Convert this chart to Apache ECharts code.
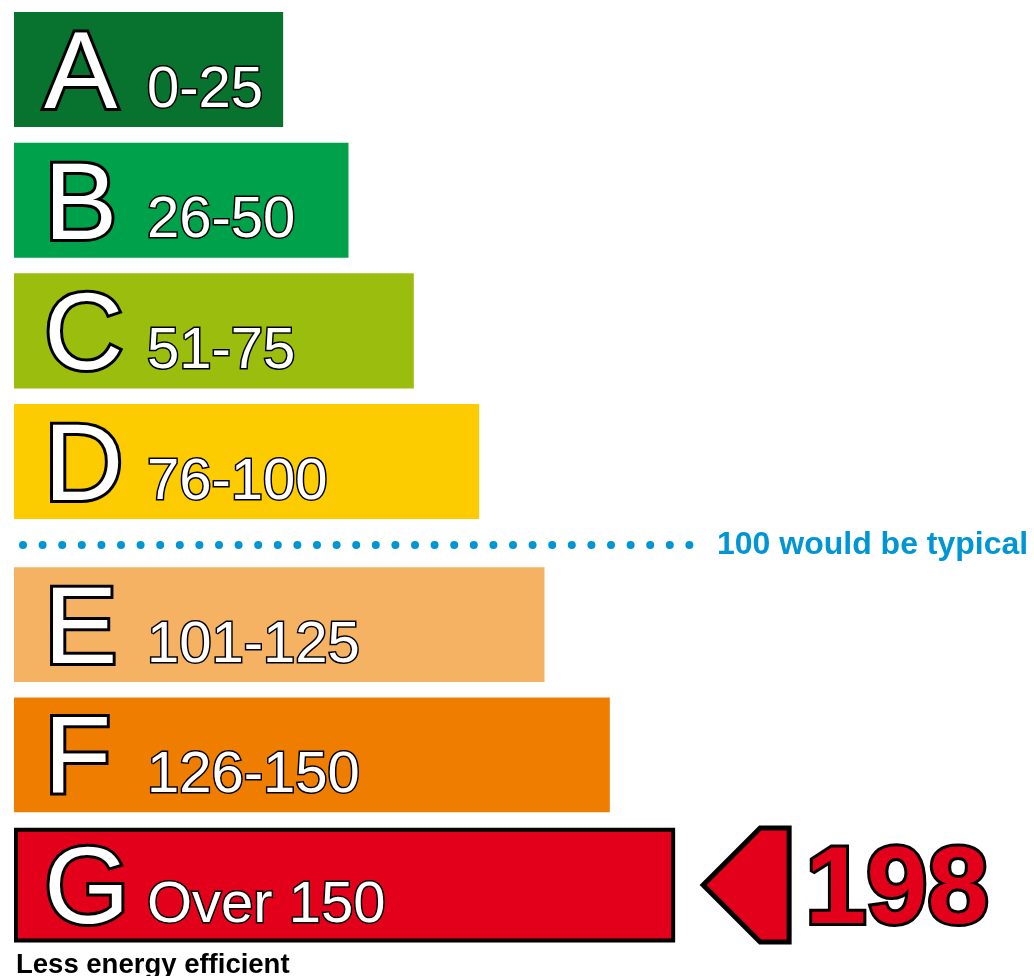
<!DOCTYPE html>
<html>
<head>
<meta charset="utf-8">
<title>Energy rating</title>
<script src="https://cdn.jsdelivr.net/npm/echarts@6/dist/echarts.min.js"></script>
<style>
	html, body { margin: 0; padding: 0; background: #fff; }
	#chart { width: 1034px; height: 976px; }
</style>
</head>
<body>
<div id="chart"></div>
<script>
	var bands = ['A', 'B', 'C', 'D', 'E', 'F', 'G'];
	var ranges = ['0-25', '26-50', '51-75', '76-100', '101-125', '126-150', 'Over 150'];
	var upper = [25, 50, 75, 100, 125, 150, 175];
	var colors = ['#08722f', '#00a14b', '#9bbe0e', '#fccb00', '#f5b263', '#ef7d00', '#e2001a'];
	var typical = 100;
	var typicalText = '100 would be typical';
	var score = 198;
	var scoreBand = 'G';
	var footText = 'Less energy efficient';

	var xMin = -78, xMax = 300;
	var FONT = '"Liberation Sans", Arial, sans-serif';
	var BLUE = '#0096d6';

	function renderBar(params, api) {
		var i = api.value(2);
		var cat = api.value(1);
		var end = api.coord([api.value(0), cat]);
		var x0 = api.coord([xMin, cat])[0];
		var h = api.size([0, 1])[1] * 0.881;
		var cy = end[1];
		var top = cy - h / 2;
		var current = bands[i] === scoreBand;
		var kids = [];
		if (current) {
			kids.push({
				type: 'rect',
				shape: { x: x0 + 2, y: top + 2, width: end[0] - x0 - 4, height: h - 4 },
				style: { fill: colors[i], stroke: '#000', lineWidth: 4 }
			});
		} else {
			kids.push({
				type: 'rect',
				shape: { x: x0, y: top, width: end[0] - x0, height: h },
				style: { fill: colors[i] }
			});
		}
		kids.push({
			type: 'text',
			style: {
				text: bands[i], x: x0 + 30, y: cy + 8, verticalAlign: 'middle',
				font: '110px ' + FONT, fill: '#fff', stroke: '#000', lineWidth: 6
			}
		});
		kids.push({
			type: 'text',
			style: {
				text: ranges[i], x: x0 + 133, y: cy + 21, verticalAlign: 'middle',
				font: '58px ' + FONT, fill: '#fff', stroke: '#000', lineWidth: 3
			}
		});
		// dotted "typical" line under the band that ends at the typical value
		if (upper[i] === typical) {
			var ly = top + h + 26;
			kids.push({
				type: 'line',
				shape: { x1: x0 + 9, y1: ly, x2: x0 + 676, y2: ly },
				style: { stroke: BLUE, lineWidth: 8, lineDash: [0, 19.6], lineCap: 'round' }
			});
			kids.push({
				type: 'text',
				style: {
					text: typicalText, x: x0 + 703, y: ly, verticalAlign: 'middle',
					font: 'bold 32px ' + FONT, fill: BLUE
				}
			});
		}
		// arrow with the current score
		if (current) {
			var tx = end[0] + 28;
			kids.push({
				type: 'polygon',
				shape: { points: [[tx, cy], [tx + 57, cy - 57], [tx + 86, cy - 57], [tx + 86, cy + 57], [tx + 57, cy + 57]] },
				style: { fill: colors[i], stroke: '#000', lineWidth: 5, lineJoin: 'miter' }
			});
			kids.push({
				type: 'text',
				style: {
					text: String(score), x: tx + 102, y: cy + 8, verticalAlign: 'middle',
					font: 'bold 110px ' + FONT, fill: colors[i], stroke: '#000', lineWidth: 6
				}
			});
			kids.push({
				type: 'text',
				style: {
					text: footText, x: x0 + 2, y: top + h + 23, verticalAlign: 'middle',
					font: 'bold 27.5px ' + FONT, fill: '#000'
				}
			});
		}
		return { type: 'group', children: kids };
	}

	function seriesData(from, to) {
		var d = [];
		for (var i = from; i < to; i++) d.push([upper[i], bands[i], i]);
		return d;
	}

	var chart = echarts.init(document.getElementById('chart'));
	chart.setOption({
		animation: false,
		grid: [
			{ left: 14, width: 987.8, top: 4.2, height: 522.7 },
			{ left: 14, width: 987.8, top: 559.4, height: 390.8 }
		],
		xAxis: [
			{ gridIndex: 0, type: 'value', min: xMin, max: xMax, show: false },
			{ gridIndex: 1, type: 'value', min: xMin, max: xMax, show: false }
		],
		yAxis: [
			{ gridIndex: 0, type: 'category', inverse: true, data: bands.slice(0, 4), show: false },
			{ gridIndex: 1, type: 'category', inverse: true, data: bands.slice(4), show: false }
		],
		series: [
			{ type: 'custom', xAxisIndex: 0, yAxisIndex: 0, renderItem: renderBar, data: seriesData(0, 4), encode: { x: 0, y: 1 } },
			{ type: 'custom', xAxisIndex: 1, yAxisIndex: 1, renderItem: renderBar, data: seriesData(4, 7), encode: { x: 0, y: 1 } }
		]
	});
</script>
</body>
</html>
